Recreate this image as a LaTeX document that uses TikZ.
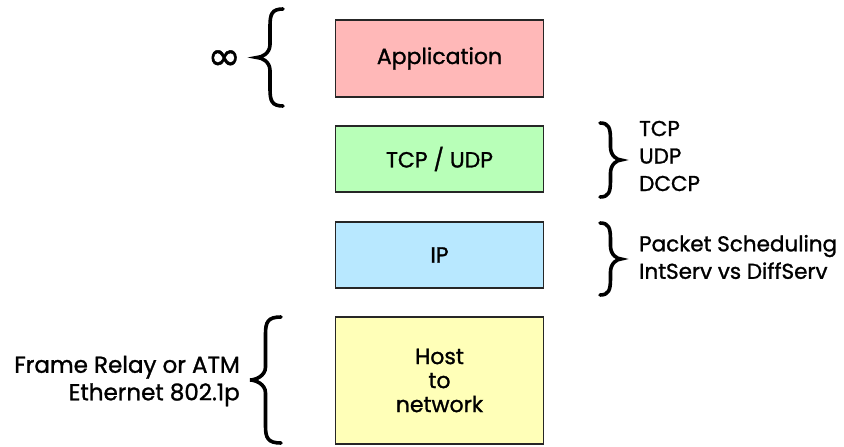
\documentclass[tikz,border=0pt]{standalone}
\usepackage{fontspec}
\setmainfont{Poppins}[FakeBold=1.2]
\newfontfamily\symfont{DejaVu Sans}[FakeBold=1.2]
\definecolor{apppink}{RGB}{255,184,184}
\definecolor{tcpgreen}{RGB}{184,255,184}
\definecolor{ipblue}{RGB}{184,232,255}
\definecolor{hostyellow}{RGB}{255,255,184}
\newcommand{\mybrace}[4]{%
  \pgfmathsetmacro\bxm{(#1+#2)/2}%
  \pgfmathsetmacro\bym{(#3+#4)/2}%
  \pgfmathsetmacro\bxq{#2+(\bxm-#2)*0.35}%
  \pgfmathsetmacro\bxe{\bxm+(#1-\bxm)*0.15}%
  \draw[bracestyle] (#1,#3) .. controls (\bxe,#3) and (\bxm,#3+5) .. (\bxm,#3+17)
    -- (\bxm,\bym-13) .. controls (\bxm,\bym-4) and (\bxq,\bym) .. (#2,\bym)
    .. controls (\bxq,\bym) and (\bxm,\bym+4) .. (\bxm,\bym+13)
    -- (\bxm,#4-17) .. controls (\bxm,#4-5) and (\bxe,#4) .. (#1,#4);}
\tikzset{
  layer/.style={draw=black!85, line width=1.6pt, minimum width=208pt, inner sep=0pt,
    font=\fontsize{22}{24}\selectfont, align=center},
  bracestyle/.style={line width=3.6pt, line cap=round, black},
  side/.style={font=\fontsize{21.5}{27.5}\selectfont, inner sep=0pt}
}
\begin{document}
\begin{tikzpicture}[x=1pt,y=-1pt]
\useasboundingbox (0,0) rectangle (844,447);
\node[layer, fill=apppink, minimum height=77pt] (app) at (439.5,58.5) {Application};
\node[layer, fill=tcpgreen, minimum height=66pt] (tcp) at (439.5,159) {TCP / UDP};
\node[layer, fill=ipblue, minimum height=66pt] (ip) at (439.5,255) {IP};
\node[layer, fill=hostyellow, minimum height=127pt] (host) at (439.5,380.5) {Host\\to\\network};
\mybrace{283}{257}{9}{106}
\node[font=\symfont\fontsize{40}{40}\selectfont, inner sep=0pt, anchor=east] (inf) at (241,60) {∞};
\mybrace{600}{621}{123}{197}
\node[side, anchor=west, align=left] (tcpl) at (639,156) {TCP\\UDP\\DCCP};
\mybrace{600}{621}{223}{295}
\node[side, anchor=west, align=left] (ipl) at (639,257) {Packet Scheduling\\IntServ vs DiffServ};
\mybrace{281}{250}{317}{443}
\node[side, anchor=east, align=right, font=\fontsize{23}{27.5}\selectfont] (hostl) at (240,381) {Frame Relay or ATM\\Ethernet 802.1p};
\end{tikzpicture}
\end{document}
